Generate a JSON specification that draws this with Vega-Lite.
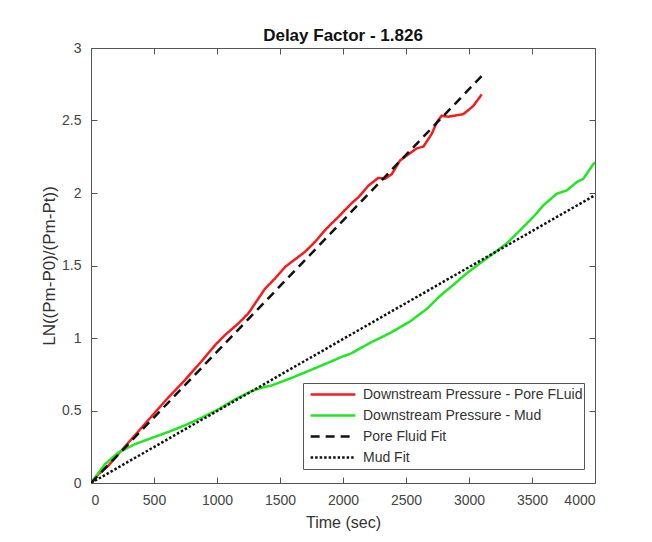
{
  "$schema": "https://vega.github.io/schema/vega-lite/v6.json",
  "width": 504,
  "height": 435,
  "autosize": {"type": "none"},
  "padding": {"left": 91, "top": 48, "right": 57, "bottom": 59},
  "background": "white",
  "title": {"text": "Delay Factor - 1.826", "fontSize": 17, "fontWeight": "bold", "font": "Liberation Sans", "color": "#111", "offset": -4},
  "data": {"values": [
    {"t": 0, "v": 0, "s": "Downstream Pressure - Pore FLuid"},
    {"t": 58, "v": 0.06, "s": "Downstream Pressure - Pore FLuid"},
    {"t": 138, "v": 0.12, "s": "Downstream Pressure - Pore FLuid"},
    {"t": 217, "v": 0.2, "s": "Downstream Pressure - Pore FLuid"},
    {"t": 349, "v": 0.33, "s": "Downstream Pressure - Pore FLuid"},
    {"t": 481, "v": 0.46, "s": "Downstream Pressure - Pore FLuid"},
    {"t": 614, "v": 0.59, "s": "Downstream Pressure - Pore FLuid"},
    {"t": 746, "v": 0.71, "s": "Downstream Pressure - Pore FLuid"},
    {"t": 878, "v": 0.84, "s": "Downstream Pressure - Pore FLuid"},
    {"t": 984, "v": 0.95, "s": "Downstream Pressure - Pore FLuid"},
    {"t": 1063, "v": 1.02, "s": "Downstream Pressure - Pore FLuid"},
    {"t": 1169, "v": 1.1, "s": "Downstream Pressure - Pore FLuid"},
    {"t": 1249, "v": 1.17, "s": "Downstream Pressure - Pore FLuid"},
    {"t": 1381, "v": 1.34, "s": "Downstream Pressure - Pore FLuid"},
    {"t": 1460, "v": 1.41, "s": "Downstream Pressure - Pore FLuid"},
    {"t": 1540, "v": 1.49, "s": "Downstream Pressure - Pore FLuid"},
    {"t": 1593, "v": 1.525, "s": "Downstream Pressure - Pore FLuid"},
    {"t": 1698, "v": 1.594, "s": "Downstream Pressure - Pore FLuid"},
    {"t": 1778, "v": 1.663, "s": "Downstream Pressure - Pore FLuid"},
    {"t": 1857, "v": 1.743, "s": "Downstream Pressure - Pore FLuid"},
    {"t": 1910, "v": 1.79, "s": "Downstream Pressure - Pore FLuid"},
    {"t": 1963, "v": 1.835, "s": "Downstream Pressure - Pore FLuid"},
    {"t": 2069, "v": 1.93, "s": "Downstream Pressure - Pore FLuid"},
    {"t": 2122, "v": 1.97, "s": "Downstream Pressure - Pore FLuid"},
    {"t": 2201, "v": 2.05, "s": "Downstream Pressure - Pore FLuid"},
    {"t": 2280, "v": 2.105, "s": "Downstream Pressure - Pore FLuid"},
    {"t": 2333, "v": 2.098, "s": "Downstream Pressure - Pore FLuid"},
    {"t": 2387, "v": 2.13, "s": "Downstream Pressure - Pore FLuid"},
    {"t": 2452, "v": 2.224, "s": "Downstream Pressure - Pore FLuid"},
    {"t": 2506, "v": 2.258, "s": "Downstream Pressure - Pore FLuid"},
    {"t": 2585, "v": 2.308, "s": "Downstream Pressure - Pore FLuid"},
    {"t": 2638, "v": 2.32, "s": "Downstream Pressure - Pore FLuid"},
    {"t": 2704, "v": 2.407, "s": "Downstream Pressure - Pore FLuid"},
    {"t": 2744, "v": 2.487, "s": "Downstream Pressure - Pore FLuid"},
    {"t": 2783, "v": 2.533, "s": "Downstream Pressure - Pore FLuid"},
    {"t": 2836, "v": 2.526, "s": "Downstream Pressure - Pore FLuid"},
    {"t": 2955, "v": 2.544, "s": "Downstream Pressure - Pore FLuid"},
    {"t": 3034, "v": 2.6, "s": "Downstream Pressure - Pore FLuid"},
    {"t": 3101, "v": 2.68, "s": "Downstream Pressure - Pore FLuid"},
    {"t": 0, "v": 0, "s": "Downstream Pressure - Mud"},
    {"t": 111, "v": 0.13, "s": "Downstream Pressure - Mud"},
    {"t": 217, "v": 0.21, "s": "Downstream Pressure - Mud"},
    {"t": 349, "v": 0.268, "s": "Downstream Pressure - Mud"},
    {"t": 481, "v": 0.31, "s": "Downstream Pressure - Mud"},
    {"t": 614, "v": 0.352, "s": "Downstream Pressure - Mud"},
    {"t": 746, "v": 0.398, "s": "Downstream Pressure - Mud"},
    {"t": 878, "v": 0.45, "s": "Downstream Pressure - Mud"},
    {"t": 1011, "v": 0.508, "s": "Downstream Pressure - Mud"},
    {"t": 1143, "v": 0.577, "s": "Downstream Pressure - Mud"},
    {"t": 1275, "v": 0.634, "s": "Downstream Pressure - Mud"},
    {"t": 1355, "v": 0.657, "s": "Downstream Pressure - Mud"},
    {"t": 1434, "v": 0.673, "s": "Downstream Pressure - Mud"},
    {"t": 1593, "v": 0.725, "s": "Downstream Pressure - Mud"},
    {"t": 1752, "v": 0.782, "s": "Downstream Pressure - Mud"},
    {"t": 1897, "v": 0.835, "s": "Downstream Pressure - Mud"},
    {"t": 1990, "v": 0.87, "s": "Downstream Pressure - Mud"},
    {"t": 2056, "v": 0.89, "s": "Downstream Pressure - Mud"},
    {"t": 2214, "v": 0.966, "s": "Downstream Pressure - Mud"},
    {"t": 2373, "v": 1.034, "s": "Downstream Pressure - Mud"},
    {"t": 2532, "v": 1.114, "s": "Downstream Pressure - Mud"},
    {"t": 2664, "v": 1.2, "s": "Downstream Pressure - Mud"},
    {"t": 2770, "v": 1.29, "s": "Downstream Pressure - Mud"},
    {"t": 2875, "v": 1.366, "s": "Downstream Pressure - Mud"},
    {"t": 2982, "v": 1.446, "s": "Downstream Pressure - Mud"},
    {"t": 3087, "v": 1.515, "s": "Downstream Pressure - Mud"},
    {"t": 3193, "v": 1.583, "s": "Downstream Pressure - Mud"},
    {"t": 3299, "v": 1.652, "s": "Downstream Pressure - Mud"},
    {"t": 3405, "v": 1.743, "s": "Downstream Pressure - Mud"},
    {"t": 3511, "v": 1.835, "s": "Downstream Pressure - Mud"},
    {"t": 3590, "v": 1.915, "s": "Downstream Pressure - Mud"},
    {"t": 3696, "v": 1.995, "s": "Downstream Pressure - Mud"},
    {"t": 3776, "v": 2.018, "s": "Downstream Pressure - Mud"},
    {"t": 3855, "v": 2.075, "s": "Downstream Pressure - Mud"},
    {"t": 3907, "v": 2.098, "s": "Downstream Pressure - Mud"},
    {"t": 3987, "v": 2.2, "s": "Downstream Pressure - Mud"},
    {"t": 4000, "v": 2.21, "s": "Downstream Pressure - Mud"},
    {"t": 0, "v": 0, "s": "Pore Fluid Fit"},
    {"t": 3100, "v": 2.806, "s": "Pore Fluid Fit"},
    {"t": 0, "v": 0, "s": "Mud Fit"},
    {"t": 4000, "v": 1.985, "s": "Mud Fit"}
  ]},
  "layer": [
    {
      "mark": {"type": "line", "strokeWidth": 2.5, "clip": true},
      "encoding": {
        "x": {"field": "t", "type": "quantitative", "scale": {"domain": [0, 4000], "nice": false},
          "axis": {"orient": "bottom", "values": [0, 500, 1000, 1500, 2000, 2500, 3000, 3500, 4000], "format": "d", "title": "Time (sec)", "titlePadding": 7, "titleFontSize": 16, "labelPadding": 16}},
        "y": {"field": "v", "type": "quantitative", "scale": {"domain": [0, 3], "nice": false},
          "axis": {"orient": "left", "values": [0, 0.5, 1, 1.5, 2, 2.5, 3], "labelExpr": "'' + datum.value", "title": "LN((Pm-P0)/(Pm-Pt))", "titlePadding": 3, "titleFontSize": 17, "labelPadding": 16}},
        "color": {"field": "s", "type": "nominal", "title": null,
          "scale": {"domain": ["Downstream Pressure - Pore FLuid", "Downstream Pressure - Mud", "Pore Fluid Fit", "Mud Fit"], "range": ["#f41c1c", "#22e622", "#111111", "#111111"]}},
        "strokeDash": {"field": "s", "type": "nominal", "title": null,
          "scale": {"domain": ["Downstream Pressure - Pore FLuid", "Downstream Pressure - Mud", "Pore Fluid Fit", "Mud Fit"], "range": [[1, 0], [1, 0], [9, 6], [2.5, 2]]}},
        "order": {"field": "t", "type": "quantitative"}
      }
    },
    {
      "mark": {"type": "line", "opacity": 0},
      "encoding": {
        "x": {"field": "t", "type": "quantitative", "axis": {"orient": "top", "values": [0, 500, 1000, 1500, 2000, 2500, 3000, 3500, 4000], "labels": false, "title": null}},
        "y": {"field": "v", "type": "quantitative", "axis": {"orient": "right", "values": [0, 0.5, 1, 1.5, 2, 2.5, 3], "labels": false, "title": null}},
        "detail": {"field": "s"}
      }
    }
  ],
  "resolve": {"axis": {"x": "independent", "y": "independent"}},
  "config": {
    "view": {"stroke": "#555", "strokeWidth": 1},
    "font": "Liberation Sans",
    "axis": {"grid": false, "domain": false, "tickSize": -6, "tickColor": "#555", "labelFont": "Liberation Sans", "labelFontSize": 14, "labelColor": "#444", "titleFont": "Liberation Sans", "titleFontWeight": "normal", "titleColor": "#333"},
    "legend": {"orient": "none", "legendX": 212, "legendY": 335, "strokeColor": "#555", "fillColor": "white", "padding": 1, "clipHeight": 21, "rowPadding": 0, "symbolType": "stroke", "symbolStrokeWidth": 2.5, "symbolSize": 2000, "symbolOffset": 5, "labelFont": "Liberation Sans", "labelFontSize": 14, "labelColor": "#333", "labelOffset": 6, "labelLimit": 400}
  }
}
